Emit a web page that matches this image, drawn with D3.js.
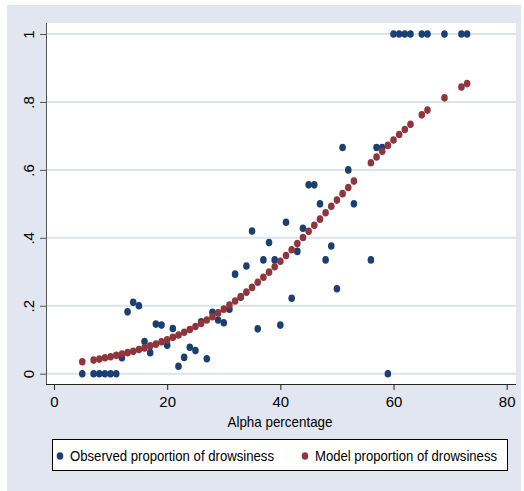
<!DOCTYPE html>
<html>
<head>
<meta charset="utf-8">
<script src="https://cdn.jsdelivr.net/npm/d3@7"></script>
<style>
  body { margin: 0; background: #fff; }
  text { font-family: 'Liberation Sans', Arial, sans-serif; fill: #000; }
</style>
</head>
<body>
<div id="vis"></div>
<script>
// data
const alphaObs = [5, 7, 8, 9, 10, 11, 12, 13, 14, 15, 16, 17, 18, 19, 20, 21, 22, 23, 24, 25, 26, 27, 28, 29, 30, 31, 32, 33, 34, 35, 36, 37, 38, 39, 40, 41, 42, 43, 44, 45, 46, 47, 48, 49, 50, 51, 52, 53, 56, 57, 58, 59, 60, 61, 62, 63, 65, 66, 69, 72, 73];
const observed = [0, 0, 0, 0, 0, 0, 0.047, 0.182, 0.21, 0.2, 0.095, 0.062, 0.146, 0.143, 0.084, 0.133, 0.022, 0.048, 0.078, 0.068, 0.153, 0.044, 0.181, 0.158, 0.15, 0.19, 0.293, 0.225, 0.317, 0.42, 0.132, 0.335, 0.386, 0.335, 0.143, 0.446, 0.222, 0.36, 0.428, 0.556, 0.556, 0.5, 0.335, 0.376, 0.25, 0.666, 0.6, 0.5, 0.335, 0.666, 0.666, 0, 1, 1, 1, 1, 1, 1, 1, 1, 1];
const model = [0.035, 0.040, 0.043, 0.047, 0.050, 0.054, 0.058, 0.062, 0.066, 0.071, 0.076, 0.082, 0.087, 0.094, 0.100, 0.107, 0.114, 0.122, 0.130, 0.139, 0.148, 0.158, 0.168, 0.179, 0.190, 0.202, 0.214, 0.227, 0.240, 0.254, 0.269, 0.284, 0.299, 0.315, 0.331, 0.348, 0.365, 0.383, 0.401, 0.419, 0.437, 0.455, 0.474, 0.493, 0.511, 0.530, 0.548, 0.567, 0.621, 0.638, 0.655, 0.672, 0.688, 0.704, 0.719, 0.734, 0.762, 0.776, 0.812, 0.844, 0.854];
const xTicks = [0, 20, 40, 60, 80];
const yTicks = [0, 0.2, 0.4, 0.6, 0.8, 1];
const yTickLabels = ['0', '.2', '.4', '.6', '.8', '1'];
const legendLabels = ['Observed proportion of drowsiness', 'Model proportion of drowsiness'];

const W = 524, H = 491;
const navy = '#1a3f72', maroon = '#90353b', bg = '#e1e6f0', grid = '#dde3ee';

let svg = d3
  .select('#vis')
  .append('svg')
  .attr('width', W)
  .attr('height', H);

// outer graph region
svg.append('rect').attr('x', 7).attr('y', 5).attr('width', 514).attr('height', 486).attr('fill', bg);
// plot region
svg.append('rect').attr('x', 46).attr('y', 23).attr('width', 470).attr('height', 361).attr('fill', '#fff');

const xScale = d3.scaleLinear().domain([0, 80]).range([54, 506.7]);
const yScale = d3.scaleLinear().domain([0, 1]).range([373.7, 34]);

// grid lines
svg
  .append('g')
  .selectAll('line')
  .data(yTicks)
  .enter()
  .append('line')
  .attr('x1', 46)
  .attr('x2', 516)
  .attr('y1', (d) => yScale(d))
  .attr('y2', (d) => yScale(d))
  .attr('stroke', grid)
  .attr('stroke-width', 2);

// y axis
const yAxis = svg
  .append('g')
  .attr('transform', 'translate(46,0)')
  .call(d3.axisLeft(yScale).tickValues(yTicks).tickSize(6).tickPadding(9).tickFormat((d, i) => yTickLabels[i]));
yAxis.select('.domain').attr('d', 'M0.5,23V384').attr('stroke', '#555');
yAxis.selectAll('.tick line').attr('stroke', '#555');
yAxis
  .selectAll('.tick text')
  .attr('font-size', 15)
  .attr('text-anchor', 'middle')
  .attr('x', 0)
  .attr('dy', 0)
  .attr('transform', 'translate(-16,0) rotate(-90)')
  .attr('dominant-baseline', 'middle');

// x axis
const xAxis = svg
  .append('g')
  .attr('transform', 'translate(0,384)')
  .call(d3.axisBottom(xScale).tickValues(xTicks).tickSize(6).tickPadding(6));
xAxis.select('.domain').attr('d', 'M46,0.5H516').attr('stroke', '#222');
xAxis.selectAll('.tick line').attr('stroke', '#222');
xAxis.selectAll('.tick text').attr('font-size', 15).attr('fill', '#000');

svg
  .append('text')
  .attr('x', 280)
  .attr('y', 427)
  .attr('text-anchor', 'middle')
  .attr('font-size', 15)
  .attr('textLength', 105)
  .attr('lengthAdjust', 'spacingAndGlyphs')
  .text('Alpha percentage');

// observed points
svg
  .append('g')
  .selectAll('ellipse')
  .data(alphaObs)
  .enter()
  .append('ellipse')
  .attr('cx', (d) => xScale(d))
  .attr('cy', (d, i) => yScale(observed[i]))
  .attr('rx', 3.3)
  .attr('ry', 3.8)
  .attr('fill', navy);

// model points
svg
  .append('g')
  .selectAll('ellipse')
  .data(alphaObs)
  .enter()
  .append('ellipse')
  .attr('cx', (d) => xScale(d))
  .attr('cy', (d, i) => yScale(model[i]))
  .attr('rx', 3.3)
  .attr('ry', 3.8)
  .attr('fill', maroon);

// legend
const legend = svg.append('g');
legend
  .append('rect')
  .attr('x', 52.5)
  .attr('y', 439.5)
  .attr('width', 455)
  .attr('height', 31)
  .attr('fill', '#fff')
  .attr('stroke', '#000');
const legendX = [60, 305];
const legendW = [204, 182];
[navy, maroon].forEach((c, i) => {
  legend.append('ellipse').attr('cx', legendX[i]).attr('cy', 456).attr('rx', 3.3).attr('ry', 3.8).attr('fill', c);
  legend
    .append('text')
    .attr('x', legendX[i] + 10)
    .attr('y', 461)
    .attr('font-size', 15)
    .attr('textLength', legendW[i])
    .attr('lengthAdjust', 'spacingAndGlyphs')
    .text(legendLabels[i]);
});
</script>
</body>
</html>
